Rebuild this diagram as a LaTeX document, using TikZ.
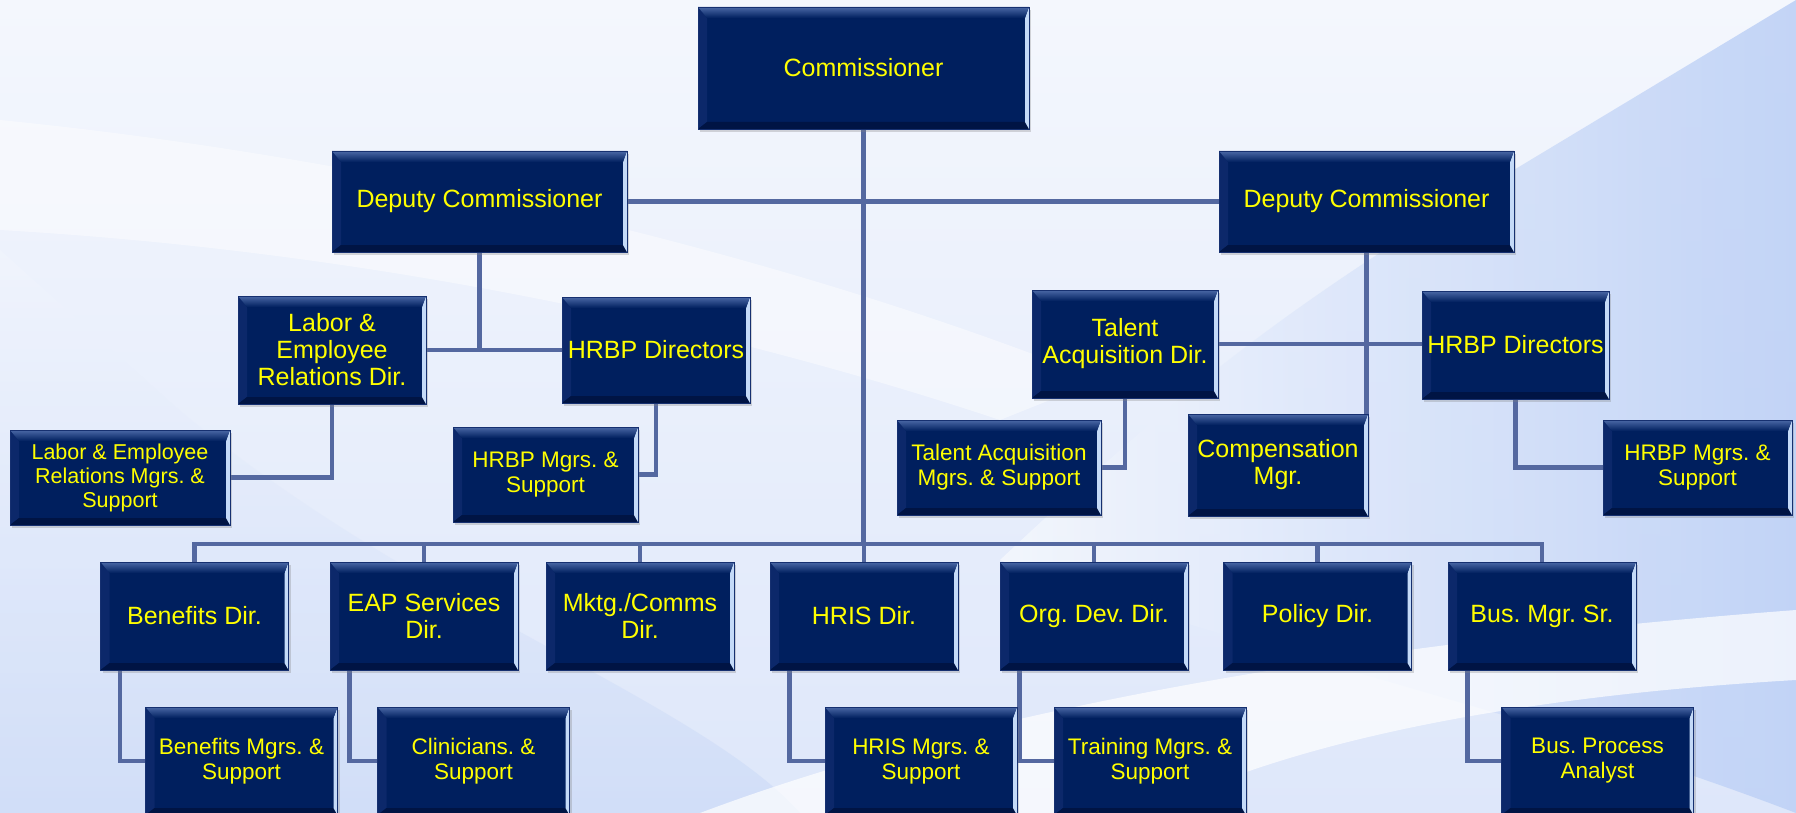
\documentclass[tikz,border=0pt]{standalone}
\usepackage{fontspec}
\setmainfont{Liberation Sans}
\usepackage{tikz}
\usetikzlibrary{shadows,backgrounds}
\frenchspacing
\definecolor{boxnavy}{RGB}{0,31,94}
\definecolor{boxedge}{RGB}{22,48,112}
\definecolor{bevtop}{RGB}{74,104,166}
\definecolor{bevleft}{RGB}{12,40,106}
\definecolor{bevright}{RGB}{196,218,248}
\definecolor{bevbottom}{RGB}{0,20,68}
\definecolor{labelyellow}{RGB}{255,255,0}
\definecolor{linkblue}{RGB}{84,104,160}
\definecolor{skywhite}{RGB}{244,247,253}
\definecolor{skypale}{RGB}{222,231,250}
\definecolor{skyblue}{RGB}{190,209,246}
\pgfdeclarelayer{sky}
\pgfsetlayers{sky,background,main}
\newcommand\bevelbox{%
  \coordinate (pnw) at (path picture bounding box.north west);
  \coordinate (pne) at (path picture bounding box.north east);
  \coordinate (pse) at (path picture bounding box.south east);
  \coordinate (psw) at (path picture bounding box.south west);
  \fill[bevleft] (pnw) -- ([shift={(9pt,-11pt)}]pnw) -- ([shift={(9pt,7pt)}]psw) -- (psw) -- cycle;
  \fill[bevbottom] (psw) -- ([shift={(9pt,7pt)}]psw) -- ([shift={(-4pt,7pt)}]pse) -- (pse) -- cycle;
  \fill[bevright] (pne) -- ([shift={(-4pt,-11pt)}]pne) -- ([shift={(-4pt,7pt)}]pse) -- (pse) -- cycle;
  \shade[top color=bevtop, bottom color=boxnavy] (pnw) -- (pne) -- ([shift={(-4pt,-11pt)}]pne) -- ([shift={(9pt,-11pt)}]pnw) -- cycle;
}
\tikzset{
    orgbox/.style={
           rectangle,
           fill=boxnavy,
           draw=boxedge, line width=0.8pt,
           text=labelyellow,
           inner sep=2pt,
           align=center,
           font=\fontsize{25}{27}\selectfont,
           minimum width=188pt,
           minimum height=108pt,
           drop shadow={opacity=0.3,shadow xshift=2pt,shadow yshift=-3pt},
           path picture={\bevelbox}
           },
    subbox/.style={
           orgbox,
           font=\fontsize{22.5}{25}\selectfont,
           minimum width=192pt
           },
    link/.style={draw=linkblue, line width=4.5pt},
}
\begin{document}
\begin{tikzpicture}[x=1pt,y=-1pt]

  \useasboundingbox (0,0) rectangle (1796,813);

  \begin{pgfonlayer}{sky}
    \shade[top color=skywhite, bottom color=skypale] (0,0) rectangle (1796,813);
    % right blue wedge
    \shade[left color=skywhite, right color=skyblue, opacity=0.9] (1796,0) -- (1464,200)
        .. controls (1250,330) and (1150,420) .. (1000,560)
        .. controls (1200,640) and (1500,700) .. (1796,813) -- cycle;
    % lower left wedge
    \shade[top color=skywhite, bottom color=skyblue, opacity=0.4] (0,250) -- (170,402)
        .. controls (400,600) and (700,700) .. (800,813) -- (0,813) -- cycle;
    % white swooshes
    \fill[white,opacity=0.45] (0,120) .. controls (400,160) and (800,260) .. (1100,380)
        -- (1000,420) .. controls (700,320) and (350,250) .. (0,230) -- cycle;
    \fill[white,opacity=0.7] (700,813) .. controls (1000,700) and (1400,640) .. (1796,610)
        -- (1796,680) .. controls (1450,700) and (1250,760) .. (1150,813) -- cycle;
  \end{pgfonlayer}

  % top
  \node[orgbox, minimum width=331pt, minimum height=122pt] (COM) at (863.5,68) {Commissioner};
  \node[orgbox, minimum width=295pt, minimum height=101pt] (DCL) at (479.5,201.5) {Deputy Commissioner};
  \node[orgbox, minimum width=295pt, minimum height=101pt] (DCR) at (1366.5,201.5) {Deputy Commissioner};

  % left deputy
  \node[orgbox] (LERD) at (332,350) {Labor \&\\Employee\\Relations Dir.};
  \node[subbox, minimum width=220pt, minimum height=95pt,
        font=\fontsize{21.5}{24}\selectfont] (LERM) at (120,477.5)
        {Labor \& Employee\\Relations Mgrs. \&\\Support};
  \node[orgbox, minimum height=106pt] (HRBPL) at (656,350) {HRBP Directors};
  \node[subbox, minimum width=185pt, minimum height=95pt] (HRBPLM) at (545.5,474.5)
        {HRBP Mgrs. \&\\Support};

  % right deputy
  \node[orgbox, minimum width=186pt] (TAD) at (1125,344) {Talent\\Acquisition Dir.};
  \node[subbox, minimum width=204pt, minimum height=95pt] (TAM) at (999,467.5)
        {Talent Acquisition\\Mgrs. \& Support};
  \node[orgbox, minimum width=180pt, minimum height=102pt] (CMP) at (1278,465) {Compensation\\Mgr.};
  \node[orgbox, minimum width=187pt] (HRBPR) at (1515.5,345) {HRBP Directors};
  \node[subbox, minimum width=189pt, minimum height=95pt] (HRBPRM) at (1697.5,467.5)
        {HRBP Mgrs. \&\\Support};

  % directors row
  \node[orgbox] (BEN) at (194.5,616) {Benefits Dir.};
  \node[orgbox] (EAP) at (424,616) {EAP Services\\Dir.};
  \node[orgbox] (MKT) at (640,616) {Mktg./Comms\\Dir.};
  \node[orgbox] (HRIS) at (864,616) {HRIS Dir.};
  \node[orgbox] (ODD) at (1094,616) {Org. Dev. Dir.};
  \node[orgbox] (POL) at (1317.5,616) {Policy Dir.};
  \node[orgbox] (BUS) at (1542,616) {Bus. Mgr. Sr.};

  % managers row
  \node[subbox] (BENM) at (241.5,761) {Benefits Mgrs. \&\\Support};
  \node[subbox] (CLIN) at (473.5,761) {Clinicians. \&\\Support};
  \node[subbox] (HRISM) at (921,761) {HRIS Mgrs. \&\\Support};
  \node[subbox] (TRN) at (1150,761) {Training Mgrs. \&\\Support};
  \node[subbox] (BPA) at (1597.5,761) {Bus. Process\\Analyst};

  \begin{pgfonlayer}{background}
    \coordinate (bus) at (863,544);
    \draw[link] (COM.south) -- (COM.south |- bus);
    \draw[link] (DCL) -- (DCR);
    \draw[link] (DCL.south) -- (DCL.south |- LERD.east);
    \draw[link] (LERD) -- (HRBPL);
    \draw[link] (LERD.south) |- (LERM.east);
    \draw[link] (HRBPL.south) |- (HRBPLM.east);
    \draw[link] (DCR.south) -- (DCR.south |- CMP.center);
    \draw[link] (TAD.east) -- (TAD.east -| HRBPR.west);
    \draw[link] (TAD.south) |- (TAM.east);
    \draw[link] (HRBPR.south) |- (HRBPRM.west);
    \draw[link] (BEN.north) |- (bus) -| (BUS.north);
    \foreach \d in {EAP,MKT,HRIS,ODD,POL}
      \draw[link] (\d.north) -- (\d.north |- bus);
    \foreach \d/\m in {BEN/BENM,EAP/CLIN,HRIS/HRISM,ODD/TRN,BUS/BPA}
      \draw[link] ([xshift=20pt]\d.south west) |- (\m.west);
  \end{pgfonlayer}

\end{tikzpicture}
\end{document}
